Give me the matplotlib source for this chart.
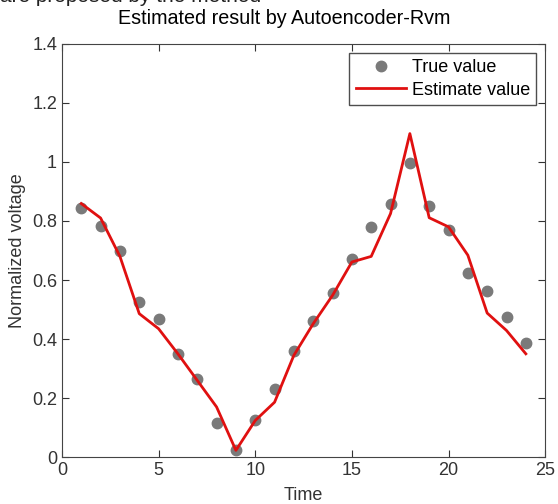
import numpy as np
import matplotlib.pyplot as plt
import matplotlib as mpl

mpl.rcParams.update({'font.size': 12, 'font.family': ['Liberation Sans', 'DejaVu Sans']})

time = np.arange(1, 25)
true_value = [0.845, 0.782, 0.699, 0.525, 0.469, 0.350, 0.264, 0.115, 0.023, 0.127,
              0.231, 0.358, 0.461, 0.556, 0.671, 0.780, 0.859, 0.997, 0.852, 0.771,
              0.624, 0.563, 0.473, 0.387]
estimate_value = [0.859, 0.810, 0.680, 0.486, 0.435, 0.350, 0.260, 0.170, 0.023, 0.124,
                  0.186, 0.345, 0.452, 0.548, 0.661, 0.680, 0.825, 1.096, 0.811, 0.780,
                  0.684, 0.488, 0.429, 0.350]

fig = plt.figure(figsize=(5.58, 5.04), dpi=100)
ax = fig.add_axes([0.111, 0.093, 0.866, 0.82])

ax.plot(time, true_value, 'o', color='#7a7a7a', markersize=7.5, label='True value')
ax.plot(time, estimate_value, '-', color='#e01010', linewidth=2, label='Estimate value')

ax.set_xlim(0, 25)
ax.set_ylim(0, 1.4)
ax.set_xticks([0, 5, 10, 15, 20, 25])
ax.set_yticks([0, 0.2, 0.4, 0.6, 0.8, 1, 1.2, 1.4])
ax.set_yticklabels(['0', '0.2', '0.4', '0.6', '0.8', '1', '1.2', '1.4'])
ax.tick_params(direction='in', top=True, right=True, length=5, labelsize=13, colors='#333333')
for s in ax.spines.values():
    s.set_color('#444444')

ax.set_title('Estimated result by Autoencoder-Rvm', fontsize=14.2, pad=14, x=0.46)
ax.set_xlabel('Time', fontsize=13, labelpad=6, color='#333333')
ax.set_ylabel('Normalized voltage', fontsize=13, labelpad=4, color='#333333')

leg = ax.legend(loc='upper right', fancybox=False, edgecolor='#222222', fontsize=13,
                handlelength=2.8, handletextpad=0.3, borderpad=0.35, labelspacing=0.3,
                borderaxespad=0.5)
leg.get_frame().set_linewidth(1.0)

# clipped line of text from the page above the chart
fig.text(0.0, 1 - 2 / 504, 'are proposed by the method', fontsize=15, color='#222222',
         va='baseline', ha='left')

fig.savefig('out.png', dpi=100)
